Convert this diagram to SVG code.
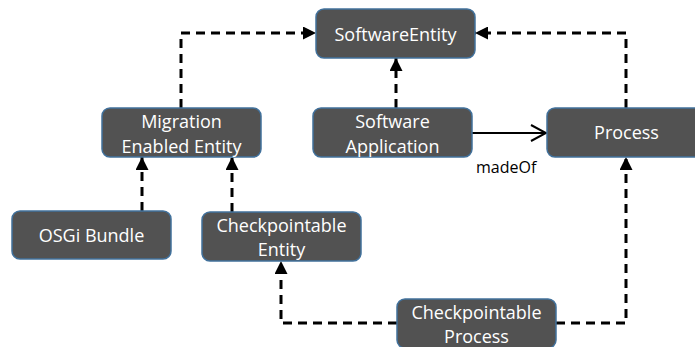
<svg xmlns="http://www.w3.org/2000/svg" width="695" height="347" viewBox="0 0 695 347">
<style>
.box{fill:#525252;stroke:#41719C;stroke-width:1.5}
.t{font-family:"Open Sans","Liberation Sans",sans-serif;font-size:18px;fill:#ffffff;text-anchor:middle}
.d{fill:none;stroke:#000;stroke-width:3;stroke-dasharray:9,6}
.s{fill:none;stroke:#000;stroke-width:2}
.lbl{font-family:"Open Sans","Liberation Sans",sans-serif;font-size:16px;fill:#000}
</style>
<defs>
<marker id="tri" markerUnits="userSpaceOnUse" markerWidth="13" markerHeight="13" refX="13" refY="6.5" orient="auto">
<path d="M0,0 L13,6.5 L0,13 z" fill="#000"/>
</marker>
<marker id="open" markerUnits="userSpaceOnUse" markerWidth="18" markerHeight="20" refX="16" refY="9" orient="auto">
<path d="M1,1 L16,9 L1,17" fill="none" stroke="#000" stroke-width="2"/>
</marker>
</defs>
<g id="connectors">
<path class="d" d="M181,108 V33 H316" marker-end="url(#tri)"/>
<path class="d" d="M396,108 V58" marker-end="url(#tri)"/>
<path class="d" d="M626,108 V33 H475" marker-end="url(#tri)"/>
<path class="s" d="M472,133 H546" marker-end="url(#open)"/>
<path class="d" d="M142,211 V157" marker-end="url(#tri)"/>
<path class="d" d="M232,212 V157" marker-end="url(#tri)"/>
<path class="d" d="M397,323 H281 V261" marker-end="url(#tri)"/>
<path class="d" d="M556,323 H626 V157" marker-end="url(#tri)"/>
<text class="lbl" x="476" y="173">madeOf</text>
</g>
<g id="SoftwareEntity">
<rect class="box" x="316" y="9" width="159" height="49" rx="8"/>
<text class="t" x="395.5" y="41">SoftwareEntity</text>
</g>
<g id="MigrationEnabledEntity">
<rect class="box" x="102" y="108" width="159" height="49" rx="8"/>
<text class="t" x="181.5" y="128">Migration</text>
<text class="t" x="181.5" y="153">Enabled Entity</text>
</g>
<g id="SoftwareApplication">
<rect class="box" x="313" y="108" width="159" height="49" rx="8"/>
<text class="t" x="392.5" y="128">Software</text>
<text class="t" x="392.5" y="153">Application</text>
</g>
<g id="Process">
<rect class="box" x="547" y="108" width="159" height="49" rx="8"/>
<text class="t" x="626.5" y="139">Process</text>
</g>
<g id="OSGiBundle">
<rect class="box" x="12" y="211" width="159" height="48" rx="8"/>
<text class="t" x="91.5" y="242">OSGi Bundle</text>
</g>
<g id="CheckpointableEntity">
<rect class="box" x="202" y="212" width="159" height="49" rx="8"/>
<text class="t" x="281.5" y="232">Checkpointable</text>
<text class="t" x="281.5" y="256">Entity</text>
</g>
<g id="CheckpointableProcess">
<rect class="box" x="397" y="299" width="159" height="49" rx="8"/>
<text class="t" x="476.5" y="319">Checkpointable</text>
<text class="t" x="476.5" y="343">Process</text>
</g>
</svg>
